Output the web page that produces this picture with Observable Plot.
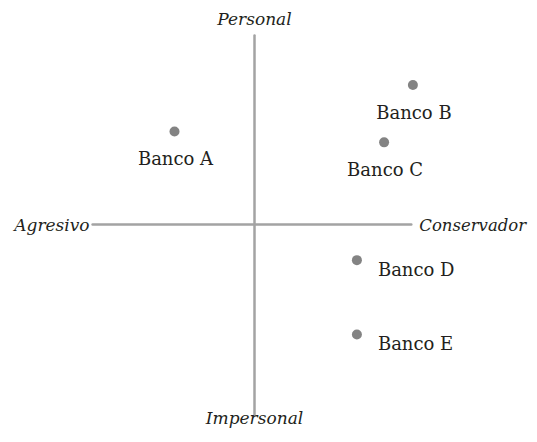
<!DOCTYPE html>
<html><head><meta charset="utf-8">
<script src="https://cdn.jsdelivr.net/npm/d3@7"></script>
<script src="https://cdn.jsdelivr.net/npm/@observablehq/plot@0.6"></script>
<style>body{margin:0;background:#fff}</style>
</head><body><div id="chart"></div>
<script>
// Data (perceptual map): x = Agresivo (-) … Conservador (+), y = Impersonal (-) … Personal (+)
const banks   = ["Banco A", "Banco B", "Banco C", "Banco D", "Banco E"];
const xValues = [-2.5, 4.95, 4.05, 3.2, 3.2];
const yValues = [3.0, 4.5, 2.65, -1.15, -3.55];
const labelPos = ["below", "below", "below", "right", "right"];
const axisLabels = ["Agresivo", "Conservador", "Personal", "Impersonal"];
const axisExtent = [-5.06, 4.9, -6.16, 6.1]; // xMin, xMax, yMin, yMax

const pts = banks.map((b, i) => ({name: b, x: xValues[i], y: yValues[i], pos: labelPos[i]}));
const [xMin, xMax, yMin, yMax] = axisExtent;
const font = "DejaVu Serif";

const chart = Plot.plot({
  width: 537, height: 442,
  margin: 0,
  x: {domain: [-5, 5], range: [94, 414], axis: null},
  y: {domain: [-6, 6], range: [410, 38], axis: null},
  style: {fontFamily: font, background: "#fff"},
  marks: [
    Plot.line([[xMin, 0], [xMax, 0]], {x: d => d[0], y: d => d[1], stroke: "#a3a3a3", strokeWidth: 2.5}),
    Plot.line([[0, yMin], [0, yMax]], {x: d => d[0], y: d => d[1], stroke: "#a3a3a3", strokeWidth: 2.5}),
    Plot.dot(pts, {x: "x", y: "y", r: 5, fill: "#838383", stroke: "none"}),
    Plot.text(pts.filter(d => d.pos === "below"), {x: "x", y: "y", text: "name", dx: 1, dy: 28, fontSize: 18, fontFamily: font, fill: "#231f20", textAnchor: "middle"}),
    Plot.text(pts.filter(d => d.pos === "right"), {x: "x", y: "y", text: "name", dx: 21, dy: 10, fontSize: 18, fontFamily: font, fill: "#231f20", textAnchor: "start"}),
    Plot.text([axisLabels[0]], {x: xMin, y: 0, text: d => d, dx: -3, dy: 1, fontSize: 17, fontFamily: font, fontStyle: "italic", fill: "#231f20", textAnchor: "end"}),
    Plot.text([axisLabels[1]], {x: xMax, y: 0, text: d => d, dx: 8, dy: 1, fontSize: 16.5, fontFamily: font, fontStyle: "italic", fill: "#231f20", textAnchor: "start"}),
    Plot.text([axisLabels[2]], {x: 0, y: yMax, text: d => d, dy: -16, fontSize: 17, fontFamily: font, fontStyle: "italic", fill: "#231f20", textAnchor: "middle"}),
    Plot.text([axisLabels[3]], {x: 0, y: yMin, text: d => d, dy: 3, fontSize: 17, fontFamily: font, fontStyle: "italic", fill: "#231f20", textAnchor: "middle"})
  ]
});
document.getElementById("chart").append(chart);
</script>
</body></html>
